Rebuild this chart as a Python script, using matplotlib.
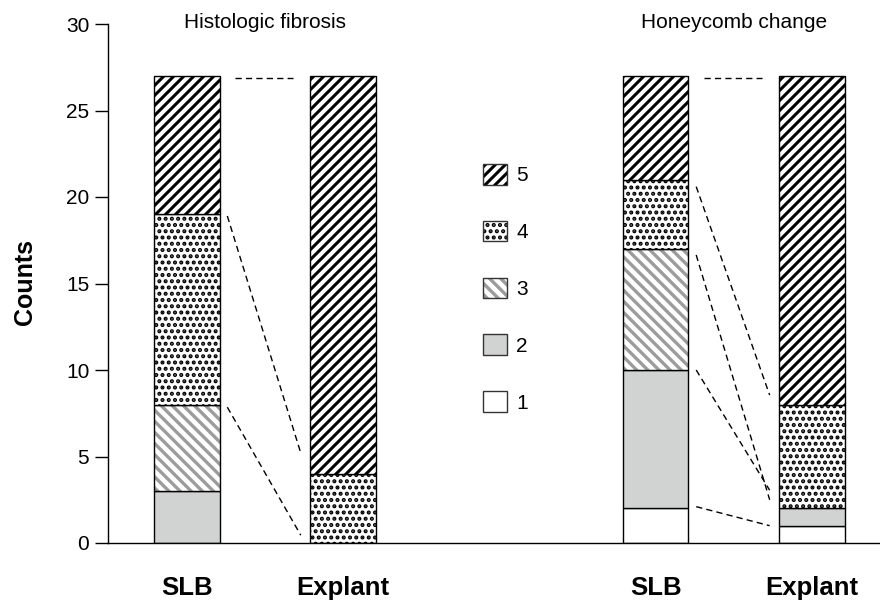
import matplotlib
matplotlib.use("Agg")
import matplotlib.pyplot as plt
from matplotlib.patches import Patch
from matplotlib.path import Path
from matplotlib.backend_bases import GraphicsContextBase

plt.rcParams['font.family'] = ['Liberation Sans', 'DejaVu Sans']

# Counts per fibrosis grade (1..5), stacked bottom to top
grades = ['1', '2', '3', '4', '5']
hist_slb = [0, 3, 5, 11, 8]
hist_explant = [0, 0, 0, 4, 23]
honey_slb = [2, 8, 7, 4, 6]
honey_explant = [1, 1, 0, 6, 19]

panel_titles = ['Histologic fibrosis', 'Honeycomb change']
bar_labels = ['SLB', 'Explant', 'SLB', 'Explant']

# dashed connectors: (level at SLB side, level at explant side)
hist_links = [(26.85, 26.85), (18.9, 5.2), (7.85, 0.45)]
honey_links = [(26.85, 26.85), (20.6, 8.55), (16.65, 2.5), (10.0, 3.05), (2.1, 1.0)]

# grade styles: facecolor, hatch colour, hatch pattern
styles = {
    '1': ('white', 'black', None),
    '2': ('#d1d3d2', 'black', None),
    '3': ('white', '#9c9c9c', '\\'),
    '4': ('white', 'black', '.'),
    '5': ('white', 'black', '/'),
}

# finer hatch spacing and per-pattern stroke width than matplotlib's defaults
# (even counts so the hatch tiles without seams)
hatch_density = {'/': 20, '\\': 18, '.': 16}
hatch_widths = {'/': 2.2, '\\': 2.4, '.': 2.0}
_orig_hatch_lw = GraphicsContextBase.get_hatch_linewidth


def _hatch_path(self, density=6.0):
    h = self.get_hatch()
    if h is None:
        return None
    return Path.hatch(h, hatch_density.get(h, 6))


def _hatch_lw(self):
    return hatch_widths.get(self.get_hatch(), _orig_hatch_lw(self))


GraphicsContextBase.get_hatch_path = _hatch_path
GraphicsContextBase.get_hatch_linewidth = _hatch_lw

bar_width = 0.42


def draw_stack(ax, x, counts):
    bottom = 0
    for g, c in zip(grades, counts):
        if c == 0:
            continue
        face, hcol, hatch = styles[g]
        ax.bar(x, c, bottom=bottom, width=bar_width, color=face,
               edgecolor=hcol, hatch=hatch, linewidth=0)
        ax.bar(x, c, bottom=bottom, width=bar_width, fill=False,
               edgecolor='black', linewidth=1.0)
        bottom += c


def draw_links(ax, x_slb, x_exp, links):
    for y0, y1 in links:
        inset = 0.1 if y0 == y1 else 0.05
        ax.plot([x_slb + bar_width / 2 + inset, x_exp - bar_width / 2 - inset - 0.01],
                [y0, y1], color='black', linewidth=1.0, dashes=(4.5, 3))


fig = plt.figure(figsize=(8.8, 6.03), dpi=100)
ax = fig.add_axes([108 / 880, 1 - 543 / 603, 1 - 108 / 880, (543 - 24) / 603])

positions = [0, 1, 3, 4]
for x, counts in zip(positions, [hist_slb, hist_explant, honey_slb, honey_explant]):
    draw_stack(ax, x, counts)

draw_links(ax, 0, 1, hist_links)
draw_links(ax, 3, 4, honey_links)

for xc, title in zip([0.5, 3.5], panel_titles):
    ax.text(xc, 30.1, title, ha='center', va='center', fontsize=15, clip_on=False)

ax.set_xlim(-0.5035, 4.436)
ax.set_ylim(0, 30)
ax.set_yticks(range(0, 31, 5))
ax.set_xticks(positions)
ax.set_xticklabels(bar_labels, fontsize=18.5, fontweight='bold')
ax.tick_params(axis='x', length=0, pad=24)
ax.tick_params(axis='y', labelsize=15, length=9.5, width=1.0, pad=4)
for side in ['top', 'right']:
    ax.spines[side].set_visible(False)
for side in ['left', 'bottom']:
    ax.spines[side].set_linewidth(1.0)

fig.text(25 / 880, 0.532, 'Counts', rotation=90, ha='center', va='center',
         fontsize=18, fontweight='bold')

# legend, grade 5 on top
handles = []
for g in grades[::-1]:
    face, hcol, hatch = styles[g]
    fill = Patch(facecolor=face, edgecolor=hcol, hatch=hatch, linewidth=0)
    edge = Patch(fill=False, edgecolor='#333333', linewidth=1.0)
    handles.append((fill, edge))
fig.legend(handles, grades[::-1], loc='upper left',
           bbox_to_anchor=(483 / 880, 1 - 164 / 603), frameon=False,
           borderpad=0, borderaxespad=0, fontsize=15,
           handlelength=1.15, handleheight=1.15, handletextpad=0.45,
           labelspacing=1.7)

fig.savefig('out.png', dpi=100)
